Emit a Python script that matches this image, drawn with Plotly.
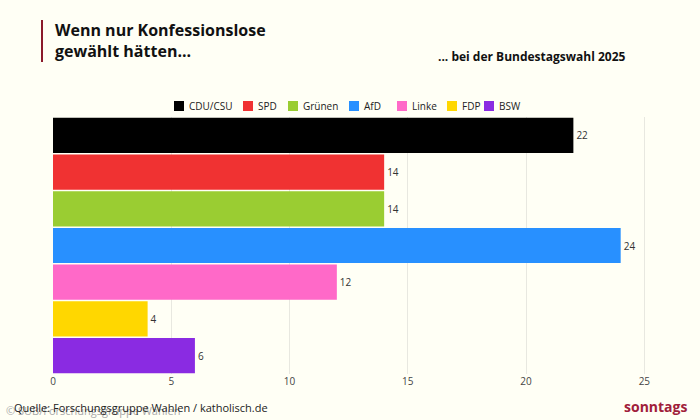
import plotly.graph_objects as go

parties = ["CDU/CSU", "SPD", "Grünen", "AfD", "Linke", "FDP", "BSW"]
values = [22, 14, 14, 24, 12, 4, 6]
colors = ["#000000", "#f03232", "#9acd32", "#2890ff", "#ff69c8", "#ffd700", "#8a2be2"]
xticks = [0, 5, 10, 15, 20, 25]
legend_x = [174, 243, 288, 349, 397, 447, 484]  # pixel start of legend swatches

fig = go.Figure()
for p, v, c in zip(parties, values, colors):
    fig.add_trace(go.Bar(y=[p], x=[v], name=p, orientation="h", marker=dict(color=c, line=dict(width=0)),
                         text=[str(v)], textposition="outside", textfont=dict(size=10, color="#333"),
                         cliponaxis=False, showlegend=False))

W, H = 700, 420
L, R, T, B = 53, 32, 117, 46
pw, ph = W - L - R, H - T - B
def px(x): return (x - L) / pw
def py(y): return (H - B - y) / ph

bg = "#fffff5"
fig.update_layout(
    width=W, height=H, paper_bgcolor=bg, plot_bgcolor=bg,
    font=dict(family="Open Sans", color="#333"),
    barmode="overlay", bargap=0.04,
    margin=dict(l=L, r=R, t=T, b=B),
    xaxis=dict(range=[0, 26], tickvals=xticks, showgrid=True, gridcolor="#e8e8e0",
               zeroline=False, tickfont=dict(size=10, color="#444"), fixedrange=True),
    yaxis=dict(categoryorder="array", categoryarray=parties, autorange="reversed",
               showticklabels=False, showgrid=False, fixedrange=True),
)
for p, c, lx in zip(parties, colors, legend_x):
    fig.add_shape(type="rect", xref="paper", yref="paper", x0=px(lx), x1=px(lx + 10),
                  y0=py(111), y1=py(101), fillcolor=c, line=dict(width=0))
    fig.add_annotation(text=p, xref="paper", yref="paper", x=px(lx + 13), y=py(106),
                       xanchor="left", yanchor="middle", showarrow=False,
                       font=dict(size=10, color="#222"))
fig.add_shape(type="line", xref="paper", yref="paper", x0=px(42), x1=px(42), y0=py(62), y1=py(20),
              line=dict(color="#8b1a2b", width=2))
fig.add_annotation(text="<b>Wenn nur Konfessionslose<br>gewählt hätten...</b>", xref="paper", yref="paper",
                   x=px(53), y=py(17), xanchor="left", yanchor="top", align="left", showarrow=False,
                   font=dict(size=16, color="#111"))
fig.add_annotation(text="<b>... bei der Bundestagswahl 2025</b>", xref="paper", yref="paper",
                   x=px(628), y=py(57), xanchor="right", yanchor="middle", showarrow=False,
                   font=dict(size=12, color="#111"))
fig.add_annotation(text="© SUB/Forschungsgruppe Wahlen", xref="paper", yref="paper",
                   x=px(4), y=py(410), xanchor="left", yanchor="middle", showarrow=False,
                   font=dict(size=11, color="#aaa"))
fig.add_annotation(text="Quelle: Forschungsgruppe Wahlen / katholisch.de", xref="paper", yref="paper",
                   x=px(12), y=py(407), xanchor="left", yanchor="middle", showarrow=False,
                   font=dict(size=11, color="#222"))
fig.add_annotation(text="<b>sonntags</b>", xref="paper", yref="paper",
                   x=px(689), y=py(406), xanchor="right", yanchor="middle", showarrow=False,
                   font=dict(size=14, color="#a0203a"))
fig.write_html("out.html", config={"displayModeBar": False},
               post_script="document.body.style.margin='0';")
